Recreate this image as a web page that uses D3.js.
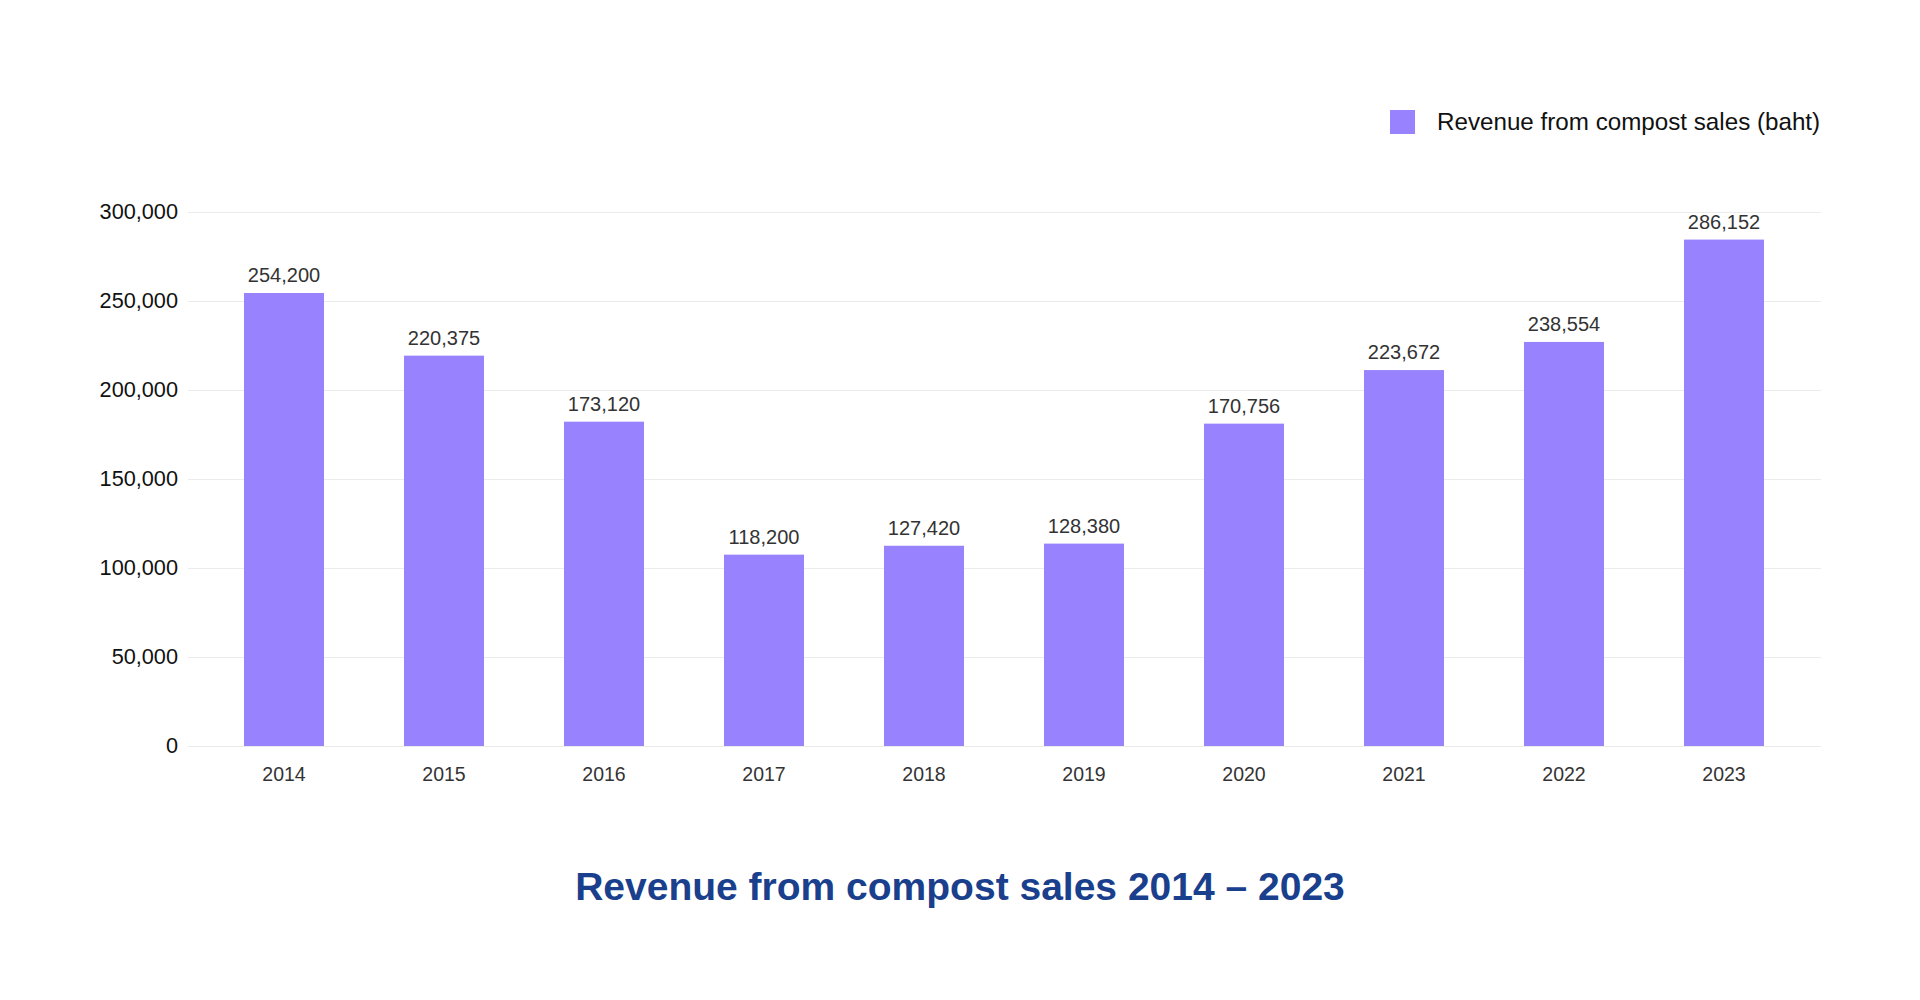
<!DOCTYPE html>
<html>
<head>
<meta charset="utf-8">
<script src="https://cdn.jsdelivr.net/npm/d3@7"></script>
<style>
  html, body { margin: 0; padding: 0; background: #ffffff; }
  svg { display: block; }
  text { font-family: "Liberation Sans", Arial, Helvetica, sans-serif; }
</style>
</head>
<body>
<svg id="chart" width="1920" height="1000"></svg>
<script>
// ---- data ----
const years = ["2014", "2015", "2016", "2017", "2018", "2019", "2020", "2021", "2022", "2023"];
// bar heights as drawn in the reference
const revenue = [254500, 219300, 182200, 107500, 112500, 113700, 181100, 211200, 227000, 284500];
// value labels as printed in the reference
const valueLabels = ["254,200", "220,375", "173,120", "118,200", "127,420", "128,380", "170,756", "223,672", "238,554", "286,152"];
const yTicks = [0, 50000, 100000, 150000, 200000, 250000, 300000];
const seriesName = "Revenue from compost sales (baht)";
const titleText = "Revenue from compost sales 2014 – 2023";

// ---- layout ----
const svg = d3.select("#chart");
const gridLeft = 188, gridRight = 1821;
const yTop = 212, yBottom = 746;
const barColor = "#9882fd";

const x = d3.scaleBand().domain(years).range([204, 1804]).paddingInner(0.5).paddingOuter(0.25);
const y = d3.scaleLinear().domain([0, 300000]).range([yBottom, yTop]);

// grid + y axis
const yAxis = d3.axisLeft(y)
  .tickValues(yTicks)
  .tickSize(-(gridRight - gridLeft))
  .tickPadding(10)
  .tickFormat(d3.format(","));
const gy = svg.append("g").attr("transform", `translate(${gridLeft},0)`).call(yAxis);
gy.select(".domain").remove();
gy.selectAll(".tick line").attr("stroke", "#ebebeb").attr("stroke-width", 1);
gy.selectAll(".tick text").attr("fill", "#111").attr("font-size", 21.7);

// bars
svg.append("g").selectAll("rect").data(years).join("rect")
  .attr("x", d => x(d))
  .attr("width", x.bandwidth())
  .attr("y", (d, i) => y(revenue[i]))
  .attr("height", (d, i) => y(0) - y(revenue[i]))
  .attr("fill", barColor);

// value labels
svg.append("g").selectAll("text").data(years).join("text")
  .attr("x", d => x(d) + x.bandwidth() / 2)
  .attr("y", (d, i) => y(revenue[i]) - 11)
  .attr("text-anchor", "middle")
  .attr("font-size", 20)
  .attr("fill", "#333")
  .text((d, i) => valueLabels[i]);

// x axis
const xAxis = d3.axisBottom(x).tickSize(0).tickPadding(21);
const gx = svg.append("g").attr("transform", `translate(0,${yBottom})`).call(xAxis);
gx.select(".domain").remove();
gx.selectAll(".tick text").attr("fill", "#333").attr("font-size", 19.5);

// legend
const lg = svg.append("g");
lg.append("rect").attr("x", 1390).attr("y", 110).attr("width", 25).attr("height", 24).attr("fill", barColor);
lg.append("text").attr("x", 1437).attr("y", 130).attr("font-size", 24.2).attr("fill", "#111").text(seriesName);

// title
svg.append("text")
  .attr("x", 960).attr("y", 900)
  .attr("text-anchor", "middle")
  .attr("font-size", 39)
  .attr("font-weight", "bold")
  .attr("fill", "#1a3f8c")
  .text(titleText);
</script>
</body>
</html>
